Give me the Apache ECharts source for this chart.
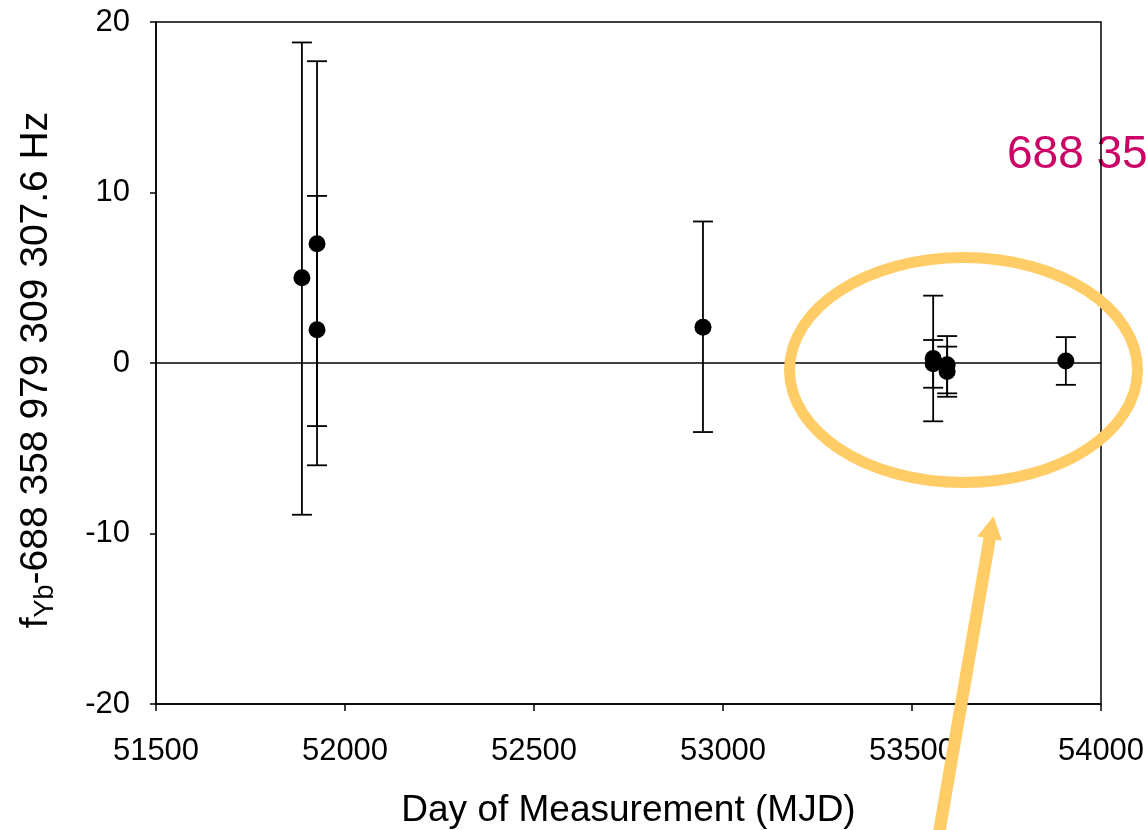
<!DOCTYPE html>
<html>
<head>
<meta charset="utf-8">
<script src="https://cdn.jsdelivr.net/npm/echarts@6/dist/echarts.min.js"></script>
<style>
  html, body { margin: 0; padding: 0; background: #ffffff; }
  #chart { width: 1148px; height: 830px; }
</style>
</head>
<body>
<div id="chart"></div>
<script>
// Yb frequency measurements: day (MJD), offset from the reference value (Hz),
// and the lower / upper ends of each error bar.
const mjd      = [51886, 51926, 51926, 52947, 53556, 53556, 53593, 53593, 53907];
const offsetHz = [5.0,   7.0,   1.95,  2.1,   0.27,  -0.05, -0.1,  -0.5,  0.12];
const errLow   = [-8.9,  -3.7,  -6.0,  -4.05, -3.42, -1.45, -1.78, -1.98, -1.28];
const errHigh  = [18.8,  17.7,  9.8,   8.3,   3.95,  1.35,  1.58,  0.96,  1.52];

// Axis tick values
const xTicks = [51500, 52000, 52500, 53000, 53500, 54000];
const yTicks = [-20, -10, 0, 10, 20];

const FONT = '"Liberation Sans", Arial, sans-serif';

const points = mjd.map((d, i) => [d, offsetHz[i]]);
const bars = mjd.map((d, i) => [d, errLow[i], errHigh[i]]);

const chart = echarts.init(document.getElementById('chart'), null, { renderer: 'canvas' });

// Arrow outline from a tail point to a tip point
function arrowPoints(tail, tip, shaftHalf, headHalf, headLen) {
  const dx = tip[0] - tail[0], dy = tip[1] - tail[1];
  const len = Math.hypot(dx, dy);
  const ux = dx / len, uy = dy / len;
  const nx = -uy, ny = ux;
  const bx = tip[0] - ux * headLen, by = tip[1] - uy * headLen;
  return [
    [tail[0] + nx * shaftHalf, tail[1] + ny * shaftHalf],
    [bx + nx * shaftHalf, by + ny * shaftHalf],
    [bx + nx * headHalf, by + ny * headHalf],
    [tip[0], tip[1]],
    [bx - nx * headHalf, by - ny * headHalf],
    [bx - nx * shaftHalf, by - ny * shaftHalf],
    [tail[0] - nx * shaftHalf, tail[1] - ny * shaftHalf]
  ];
}

const option = {
  backgroundColor: '#ffffff',
  animation: false,
  textStyle: { fontFamily: FONT, color: '#000' },
  grid: {
    left: 156, right: 47, top: 22, bottom: 126,
    outerBoundsMode: 'none',
    containLabel: false,
    show: true, borderColor: '#000', borderWidth: 1.5,
    backgroundColor: 'transparent', z: 2
  },
  xAxis: {
    type: 'value',
    min: xTicks[0], max: xTicks[xTicks.length - 1], interval: 500,
    name: 'Day of Measurement (MJD)',
    nameLocation: 'middle', nameGap: 88,
    nameTextStyle: { fontSize: 37, fontFamily: FONT, color: '#000' },
    axisLine: { show: true, onZero: false, lineStyle: { color: '#000', width: 1.5 } },
    axisTick: { show: true, inside: false, length: 7, lineStyle: { color: '#000', width: 1.5 } },
    axisLabel: { fontSize: 31, fontFamily: FONT, color: '#000', margin: 32, formatter: v => String(v) },
    splitLine: { show: false }
  },
  yAxis: {
    type: 'value',
    min: yTicks[0], max: yTicks[yTicks.length - 1], interval: 10,
    name: '{m|f}{s|Yb}{m|-688 358 979 309 307.6 Hz}',
    nameLocation: 'middle', nameRotate: 90, nameGap: 98,
    nameTextStyle: {
      fontFamily: FONT, color: '#000',
      padding: [0, 14, 0, 0],
      rich: {
        m: { fontSize: 39, fontFamily: FONT, color: '#000', lineHeight: 44 },
        s: { fontSize: 27, fontFamily: FONT, color: '#000', lineHeight: 27, padding: [20, 0, 0, 0] }
      }
    },
    axisLine: { show: true, onZero: false, lineStyle: { color: '#000', width: 1.5 } },
    axisTick: { show: true, inside: false, length: 6, lineStyle: { color: '#000', width: 1.5 } },
    axisLabel: { fontSize: 31, fontFamily: FONT, color: '#000', margin: 26, formatter: v => String(v) },
    splitLine: { show: false }
  },
  series: [
    {
      // vertical error bars with end caps
      type: 'custom',
      data: bars,
      z: 3,
      renderItem: function (params, api) {
        const x = api.value(0);
        const lo = api.coord([x, api.value(1)]);
        const hi = api.coord([x, api.value(2)]);
        const hw = 10;
        const st = { stroke: '#000', lineWidth: 1.8 };
        return {
          type: 'group',
          children: [
            { type: 'line', shape: { x1: hi[0], y1: hi[1], x2: lo[0], y2: lo[1] }, style: st },
            { type: 'line', shape: { x1: hi[0] - hw, y1: hi[1], x2: hi[0] + hw, y2: hi[1] }, style: st },
            { type: 'line', shape: { x1: lo[0] - hw, y1: lo[1], x2: lo[0] + hw, y2: lo[1] }, style: st }
          ]
        };
      },
      markLine: {
        silent: true,
        symbol: 'none',
        label: { show: false },
        lineStyle: { color: '#000', width: 1.5, type: 'solid', opacity: 1 },
        data: [{ yAxis: 0 }]
      }
    },
    {
      type: 'scatter',
      data: points,
      symbol: 'circle',
      symbolSize: 17,
      itemStyle: { color: '#000', opacity: 1 },
      z: 4
    }
  ],
  graphic: [
    {
      type: 'text',
      z: -10,
      left: 1007, top: 132,
      style: {
        text: '688 358 979 309 307.6 Hz',
        fontSize: 46, fontFamily: FONT,
        fill: '#CC0066'
      }
    },
    {
      type: 'ellipse',
      z: 20,
      shape: { cx: 963.5, cy: 370, rx: 174, ry: 112.5 },
      style: { fill: 'none', stroke: '#FFCC66', lineWidth: 11 }
    },
    {
      type: 'polygon',
      z: 20,
      shape: { points: arrowPoints([937, 845], [993.5, 516], 6.2, 12.5, 23) },
      style: { fill: '#FFCC66' }
    }
  ]
};

chart.setOption(option);
</script>
</body>
</html>
